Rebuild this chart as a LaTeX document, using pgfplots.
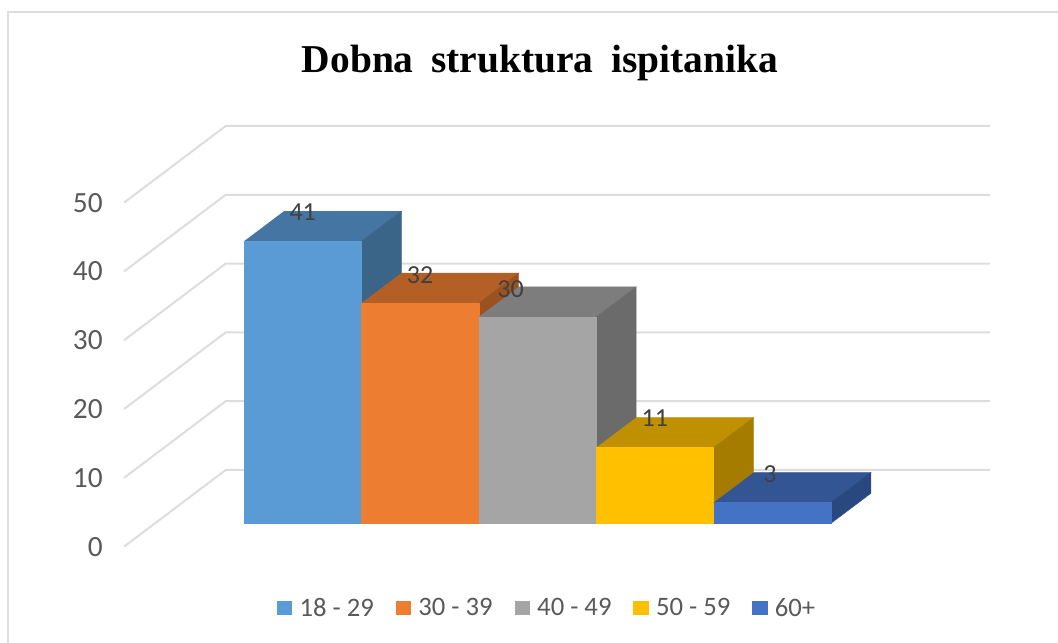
\documentclass[border=0pt]{standalone}
\usepackage{pgfplots}
\pgfplotsset{compat=1.18}
\usepackage{fontspec}
\setmainfont{Carlito}
\newfontfamily\titlefont{Liberation Serif}
\definecolor{gridc}{HTML}{DDDDDD}
\definecolor{frontA}{HTML}{5B9BD5}\definecolor{topA}{HTML}{4575A2}\definecolor{sideA}{HTML}{3A6589}
\definecolor{frontB}{HTML}{ED7D31}\definecolor{topB}{HTML}{B45F25}\definecolor{sideB}{HTML}{9C521F}
\definecolor{frontC}{HTML}{A5A5A5}\definecolor{topC}{HTML}{7D7D7D}\definecolor{sideC}{HTML}{6B6B6B}
\definecolor{frontD}{HTML}{FFC000}\definecolor{topD}{HTML}{BF9000}\definecolor{sideD}{HTML}{A67C00}
\definecolor{frontE}{HTML}{4472C4}\definecolor{topE}{HTML}{335593}\definecolor{sideE}{HTML}{2A4880}
\begin{document}
\begin{tikzpicture}
\useasboundingbox (0,0) rectangle (793.5pt,482.25pt);
\begin{axis}[
  scale only axis, width=793.5pt, height=482.25pt,
  xmin=-2.0784, xmax=6.9336, ymin=-17.398, ymax=76.06,
  clip=false,
  axis line style={draw=none},
  xtick=\empty,
  ytick={-3.4,6.6,16.6,26.6,36.6,46.6},
  yticklabels={0,10,20,30,40,50},
  major tick length=0pt,
  yticklabel style={anchor=east, xshift=77.2pt, text=black!65, font=\fontsize{22pt}{24pt}\selectfont, inner sep=0pt},
  title={\titlefont\bfseries Dobna\hspace{0.2em} struktura\hspace{0.2em} ispitanika},
  title style={at={(0.5104,0.889)}, anchor=center, font=\fontsize{29.6pt}{31pt}\selectfont, inner sep=0pt},
  legend image code/.code={\fill[draw=none,#1] (0pt,-5.6pt) rectangle (11.5pt,5.6pt);\path (0pt,0pt) (16.8pt,0pt);},
  legend columns=5,
  legend style={at={(0.516,0.0544)}, anchor=center, draw=none, fill=none, inner sep=0pt,
     font=\fontsize{20pt}{22pt}\selectfont, text=black!65,
     nodes={inner sep=0pt},
     /tikz/every even column/.append style={column sep=16.2pt}},
  legend cell align=left,
]
% chart frame
\addplot[gridc, line width=1.9pt, forget plot] coordinates {(-2.0102,-17.398) (-2.0102,74.3) (6.9336,74.3)};
% wall and floor gridlines
\addplot[gridc, line width=1.5pt, forget plot] coordinates {(-1.0221,-3.4) (-0.1559,7.75) (6.3543,7.75)};
\addplot[gridc, line width=1.5pt, forget plot] coordinates {(-1.0221,6.6) (-0.1559,17.75) (6.3543,17.75)};
\addplot[gridc, line width=1.5pt, forget plot] coordinates {(-1.0221,16.6) (-0.1559,27.75) (6.3543,27.75)};
\addplot[gridc, line width=1.5pt, forget plot] coordinates {(-1.0221,26.6) (-0.1559,37.75) (6.3543,37.75)};
\addplot[gridc, line width=1.5pt, forget plot] coordinates {(-1.0221,36.6) (-0.1559,47.75) (6.3543,47.75)};
\addplot[gridc, line width=1.5pt, forget plot] coordinates {(-1.0221,46.6) (-0.1559,57.75) (6.3543,57.75)};
% bar 18-29 : 41
\addplot[fill=topA, draw=topA, line width=0.3pt, forget plot] coordinates {(0,41) (1,41) (1.34,45.36) (0.34,45.36)};
\addplot[fill=sideA, draw=sideA, line width=0.3pt, forget plot] coordinates {(1,0) (1.34,4.36) (1.34,45.36) (1,41)};
\addplot[fill=frontA, draw=frontA, line width=0.3pt, forget plot] coordinates {(0,0) (1,0) (1,41) (0,41)};
% bar 30-39 : 32
\addplot[fill=topB, draw=topB, line width=0.3pt, forget plot] coordinates {(1,32) (2,32) (2.34,36.36) (1.34,36.36)};
\addplot[fill=sideB, draw=sideB, line width=0.3pt, forget plot] coordinates {(2,0) (2.34,4.36) (2.34,36.36) (2,32)};
\addplot[fill=frontB, draw=frontB, line width=0.3pt, forget plot] coordinates {(1,0) (2,0) (2,32) (1,32)};
% bar 40-49 : 30
\addplot[fill=topC, draw=topC, line width=0.3pt, forget plot] coordinates {(2,30) (3,30) (3.34,34.36) (2.34,34.36)};
\addplot[fill=sideC, draw=sideC, line width=0.3pt, forget plot] coordinates {(3,0) (3.34,4.36) (3.34,34.36) (3,30)};
\addplot[fill=frontC, draw=frontC, line width=0.3pt, forget plot] coordinates {(2,0) (3,0) (3,30) (2,30)};
% bar 50-59 : 11
\addplot[fill=topD, draw=topD, line width=0.3pt, forget plot] coordinates {(3,11) (4,11) (4.34,15.36) (3.34,15.36)};
\addplot[fill=sideD, draw=sideD, line width=0.3pt, forget plot] coordinates {(4,0) (4.34,4.36) (4.34,15.36) (4,11)};
\addplot[fill=frontD, draw=frontD, line width=0.3pt, forget plot] coordinates {(3,0) (4,0) (4,11) (3,11)};
% bar 60+ : 3
\addplot[fill=topE, draw=topE, line width=0.3pt, forget plot] coordinates {(4,3) (5,3) (5.34,7.36) (4.34,7.36)};
\addplot[fill=sideE, draw=sideE, line width=0.3pt, forget plot] coordinates {(5,0) (5.34,4.36) (5.34,7.36) (5,3)};
\addplot[fill=frontE, draw=frontE, line width=0.3pt, forget plot] coordinates {(4,0) (5,0) (5,3) (4,3)};
% data labels
\addplot[draw=none, mark=none, forget plot, point meta=explicit symbolic,
  nodes near coords, every node near coord/.append style={anchor=center, inner sep=0pt, text=black!75, font=\fontsize{19.5pt}{21pt}\selectfont}]
  coordinates {(0.5,45.2)[41] (1.5,36)[32] (2.27,34.1)[30] (3.5,15.3)[11] (4.48,7.1)[3]};
% legend
\addlegendimage{fill=frontA}\addlegendentry{18 - 29}
\addlegendimage{fill=frontB}\addlegendentry{30 - 39}
\addlegendimage{fill=frontC}\addlegendentry{40 - 49}
\addlegendimage{fill=frontD}\addlegendentry{50 - 59}
\addlegendimage{fill=frontE}\addlegendentry{60+}
\end{axis}
\end{tikzpicture}
\end{document}
